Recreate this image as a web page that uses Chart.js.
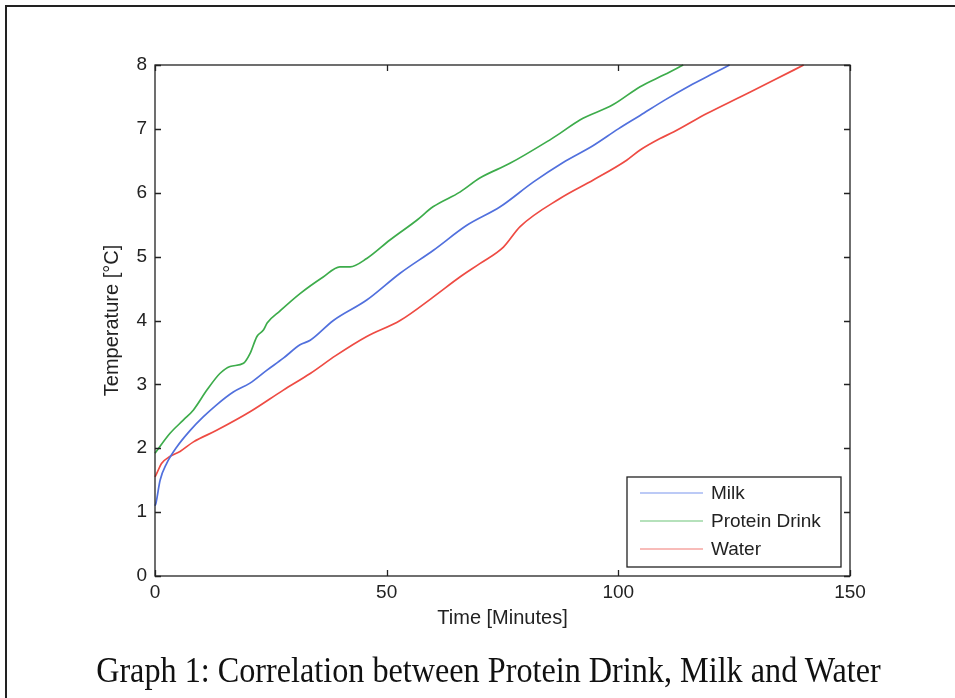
<!DOCTYPE html>
<html>
<head>
<meta charset="utf-8">
<script src="https://cdn.jsdelivr.net/npm/chart.js@4.4.1/dist/chart.umd.min.js"></script>
<style>
  html, body { margin: 0; padding: 0; background: #fff; }
  #wrap { position: relative; width: 955px; height: 698px; overflow: hidden; }
  #frame { position: absolute; left: 5px; top: 5px; width: 960px; height: 700px;
           border-left: 2px solid #222; border-top: 2px solid #222; box-sizing: border-box; }
  #cap { position: absolute; left: 0; width: 977px; top: 651px; text-align: center; white-space: nowrap;
         font-family: "Liberation Serif", "Times New Roman", serif; font-size: 35px; color: #111;
         transform: scaleX(0.92); transform-origin: 488px 0; }
  canvas { position: absolute; left: 0; top: 0; }
</style>
</head>
<body>
<div id="wrap">
  <div id="frame"></div>
  <canvas id="c" width="955" height="698"></canvas>
  <div id="cap">Graph 1: Correlation between Protein Drink, Milk and Water</div>
</div>
<script>
// ---- data ----
const seriesNames = ["Milk", "Protein Drink", "Water"];

const milkTime = [0, 0.2, 1.1, 2.5, 4.7, 7.6, 10.4, 13.3, 16.9, 20.5, 24.1, 27.7, 31.3, 33.5, 38.5, 45.7, 52.9, 60.1, 67.3, 74.5, 81.7, 88, 94.6, 100, 104.7, 110, 115.5, 120, 124];
const milkTemp = [1.1, 1.14, 1.5, 1.76, 2.02, 2.28, 2.49, 2.68, 2.88, 3.02, 3.22, 3.41, 3.62, 3.69, 4.0, 4.32, 4.74, 5.1, 5.49, 5.78, 6.17, 6.47, 6.74, 7.0, 7.21, 7.45, 7.68, 7.85, 8.0];

const proteinTime = [0, 3.2, 6.1, 8.3, 11.2, 14, 16.2, 19.1, 20.5, 22, 23.4, 24.2, 27, 31.3, 36.3, 39.9, 42.1, 45.7, 50.7, 56.5, 60, 65.8, 70.1, 76.6, 84.6, 87.4, 91.7, 98.9, 104.7, 110, 114];
const proteinTemp = [1.92, 2.23, 2.44, 2.6, 2.91, 3.17, 3.28, 3.33, 3.48, 3.75, 3.85, 3.96, 4.15, 4.42, 4.68, 4.84, 4.84, 4.97, 5.26, 5.57, 5.78, 6.01, 6.23, 6.46, 6.8, 6.93, 7.14, 7.38, 7.66, 7.85, 8.0];

const waterTime = [0, 0.4, 1.4, 3.2, 5.4, 8.3, 13.3, 20.5, 27.7, 33.5, 39, 45.7, 52.9, 60.1, 65.8, 70.1, 75.2, 78.8, 87.4, 94.6, 101.8, 104.7, 109, 111.9, 119.1, 126.3, 133.5, 140];
const waterTemp = [1.55, 1.61, 1.76, 1.87, 1.95, 2.1, 2.28, 2.57, 2.91, 3.17, 3.45, 3.75, 4.0, 4.37, 4.68, 4.89, 5.15, 5.47, 5.91, 6.2, 6.51, 6.67, 6.85, 6.95, 7.24, 7.5, 7.76, 8.0];

const xTicks = [0, 50, 100, 150];
const yTicks = [0, 1, 2, 3, 4, 5, 6, 7, 8];

const lineColors = ["#5170dd", "#3dac4b", "#ee4b43"];
const legendColors = ["#7b95ee", "#6cc478", "#f27a74"];

const sansFont = '"Liberation Sans", Arial, sans-serif';

function pts(t, v) { return t.map((x, i) => ({ x: x, y: v[i] })); }

const frameTicks = {
  id: 'frameTicks',
  afterDatasetsDraw(chart) {
    const { ctx, chartArea: a, scales: { x, y } } = chart;
    ctx.save();
    ctx.strokeStyle = '#222';
    ctx.lineWidth = 1.3;
    ctx.strokeRect(a.left, a.top, a.right - a.left, a.bottom - a.top);
    const L = 6;
    ctx.beginPath();
    xTicks.forEach(v => {
      const px = Math.round(x.getPixelForValue(v)) + 0.5;
      ctx.moveTo(px, a.bottom); ctx.lineTo(px, a.bottom - L);
      ctx.moveTo(px, a.top); ctx.lineTo(px, a.top + L);
    });
    yTicks.forEach(v => {
      const py = Math.round(y.getPixelForValue(v)) + 0.5;
      ctx.moveTo(a.left, py); ctx.lineTo(a.left + L, py);
      ctx.moveTo(a.right, py); ctx.lineTo(a.right - L, py);
    });
    ctx.stroke();
    // legend box inside plot area (bottom-right)
    const bx = 627, by = 477, bw = 214, bh = 90;
    ctx.fillStyle = '#fff';
    ctx.fillRect(bx, by, bw, bh);
    ctx.strokeStyle = '#222';
    ctx.lineWidth = 1.3;
    ctx.strokeRect(bx, by, bw, bh);
    ctx.font = '19px ' + sansFont;
    ctx.textBaseline = 'middle';
    chart.data.datasets.forEach((ds, i) => {
      const cy = by + 16 + i * 28;
      ctx.strokeStyle = legendColors[i];
      ctx.lineWidth = 1.2;
      ctx.beginPath(); ctx.moveTo(bx + 13, cy); ctx.lineTo(bx + 76, cy); ctx.stroke();
      ctx.fillStyle = '#222';
      ctx.fillText(ds.label, bx + 84, cy + 1);
    });
    ctx.restore();
  }
};

new Chart(document.getElementById('c'), {
  type: 'scatter',
  data: {
    datasets: [
      { label: seriesNames[0], data: pts(milkTime, milkTemp), borderColor: lineColors[0] },
      { label: seriesNames[1], data: pts(proteinTime, proteinTemp), borderColor: lineColors[1] },
      { label: seriesNames[2], data: pts(waterTime, waterTemp), borderColor: lineColors[2] }
    ].map(d => Object.assign(d, { showLine: true, pointRadius: 0, borderWidth: 1.7, cubicInterpolationMode: 'monotone', fill: false, clip: 2 }))
  },
  options: {
    responsive: false,
    animation: false,
    devicePixelRatio: 1,
    layout: { padding: { left: 96, top: 65, right: 105, bottom: 64 } },
    plugins: { legend: { display: false }, tooltip: { enabled: false }, title: { display: false } },
    scales: {
      x: {
        type: 'linear', min: 0, max: 150,
        afterBuildTicks: s => { s.ticks = xTicks.map(v => ({ value: v })); },
        afterFit: s => { s.height = 58; },
        grid: { display: false, drawTicks: false },
        border: { display: false },
        ticks: { padding: 5, color: '#222', font: { family: sansFont, size: 19 }, maxRotation: 0 },
        title: { display: true, text: 'Time [Minutes]', color: '#222', font: { family: sansFont, size: 20 } }
      },
      y: {
        type: 'linear', min: 0, max: 8,
        afterBuildTicks: s => { s.ticks = yTicks.map(v => ({ value: v })); },
        afterFit: s => { s.width = 59; },
        grid: { display: false, drawTicks: false },
        border: { display: false },
        ticks: { padding: 8, color: '#222', font: { family: sansFont, size: 19 } },
        title: { display: true, text: 'Temperature [°C]', color: '#222', font: { family: sansFont, size: 20 } }
      }
    }
  },
  plugins: [frameTicks]
});
</script>
</body>
</html>
